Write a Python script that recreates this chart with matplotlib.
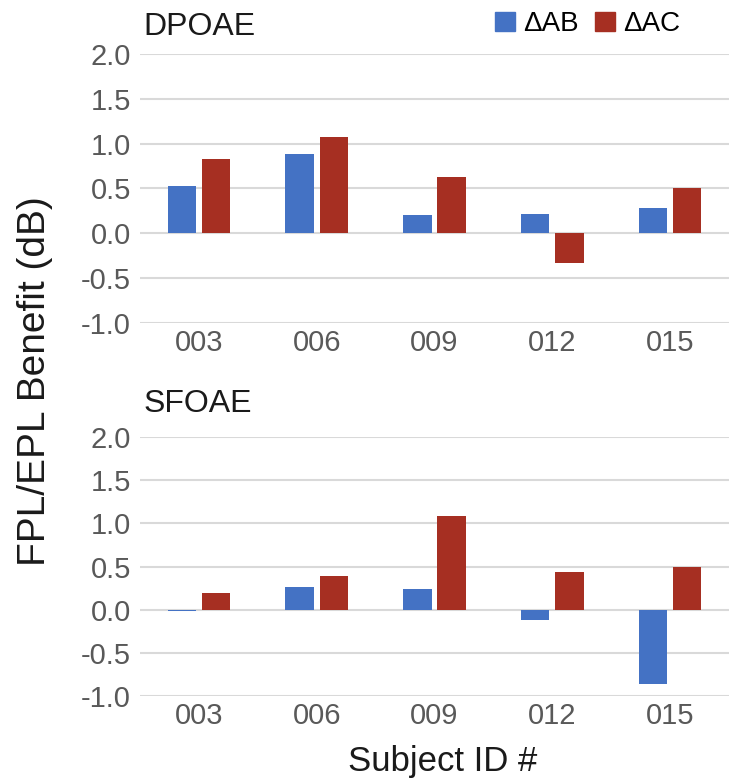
import numpy as np
import matplotlib.pyplot as plt
from matplotlib.patches import Patch

plt.rcParams['font.family'] = ['Liberation Sans', 'DejaVu Sans']

subjects = ["003", "006", "009", "012", "015"]
dpoae_ab = [0.53, 0.88, 0.20, 0.22, 0.28]
dpoae_ac = [0.83, 1.07, 0.63, -0.33, 0.50]
sfoae_ab = [-0.02, 0.26, 0.24, -0.12, -0.86]
sfoae_ac = [0.19, 0.39, 1.09, 0.44, 0.49]
yticks = [-1.0, -0.5, 0.0, 0.5, 1.0, 1.5, 2.0]

blue = '#4472C4'
red = '#A62F22'
grey = '#595959'

fig = plt.figure(figsize=(7.29, 7.83), dpi=100)
ax1 = fig.add_axes([0.192, 0.5875, 0.808, 0.3436])
ax2 = fig.add_axes([0.192, 0.1111, 0.808, 0.3308])

x = np.arange(len(subjects))
w = 0.24
for ax, ab, ac in [(ax1, dpoae_ab, dpoae_ac), (ax2, sfoae_ab, sfoae_ac)]:
    ax.bar(x - 0.145, ab, w, color=blue, zorder=3)
    ax.bar(x + 0.145, ac, w, color=red, zorder=3)
    ax.set_xlim(-0.5, len(subjects) - 0.5)
    ax.set_ylim(-1.0, 2.0)
    ax.set_yticks(yticks)
    ax.set_yticklabels(['%.1f' % t for t in yticks])
    ax.set_xticks(x)
    ax.set_xticklabels(subjects)
    ax.grid(axis='y', color='#d9d9d9', linewidth=1.5, zorder=0)
    for s in ax.spines.values():
        s.set_visible(False)
    ax.tick_params(length=0, labelsize=21, labelcolor=grey)
    ax.tick_params(axis='y', pad=6.5)
    ax.tick_params(axis='x', pad=4)

fig.text(0.197, 0.966, 'DPOAE', fontsize=23, color='#1a1a1a', va='center', ha='left')
fig.text(0.197, 0.484, 'SFOAE', fontsize=23, color='#1a1a1a', va='center', ha='left')
fig.text(0.048, 0.513, 'FPL/EPL Benefit (dB)', fontsize=28, color='#1a1a1a',
         rotation=90, va='center', ha='center')
fig.text(0.607, 0.027, 'Subject ID #', fontsize=25, color='#1a1a1a', va='center', ha='center')

handles = [Patch(color=blue, label='ΔAB'), Patch(color=red, label='ΔAC')]
fig.legend(handles=handles, loc='center', bbox_to_anchor=(0.806, 0.969), ncol=2,
           frameon=False, fontsize=20, handlelength=0.7, handleheight=0.7,
           handletextpad=0.3, columnspacing=0.6)

fig.savefig('out.png', dpi=100)
